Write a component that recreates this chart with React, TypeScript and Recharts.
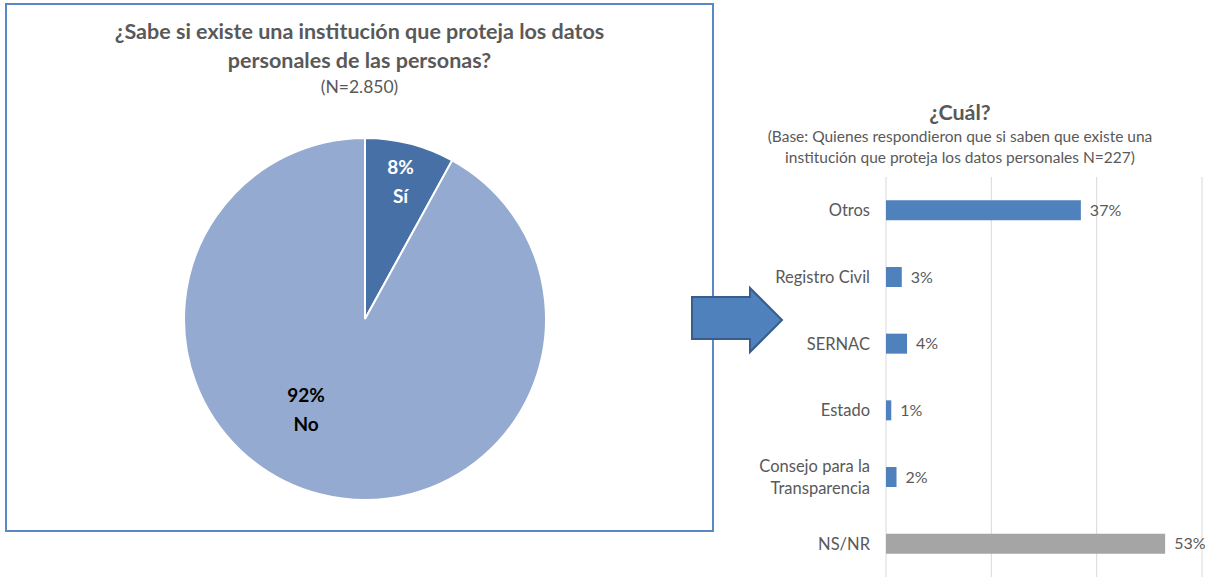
import React from "react";
import {
  Bar,
  BarChart,
  CartesianGrid,
  Cell,
  LabelList,
  Pie,
  PieChart,
  XAxis,
  YAxis,
} from "recharts";

// pie: ¿Sabe si existe una institución...?
const pieNames = ["Sí", "No"];
const pieValues = [8, 92];
const pieColors = ["#4771a6", "#95aad1"];

// bars: ¿Cuál?
const barCategories = [
  "Otros",
  "Registro Civil",
  "SERNAC",
  "Estado",
  "Consejo para la Transparencia",
  "NS/NR",
];
const barValues = [37, 3, 4, 1, 2, 53];
const barColors = ["#4f81bd", "#4f81bd", "#4f81bd", "#4f81bd", "#4f81bd", "#a5a5a5"];
const xTicks = [0, 20, 40, 60];

const pieData = pieNames.map((name, i) => ({ name, value: pieValues[i] }));
const barData = barCategories.map((name, i) => ({ name, value: barValues[i] }));

const FONT = "Lato, 'Open Sans', sans-serif";
const INK = "#595959";
const RAD = Math.PI / 180;

// label placement tweaks (radius, angle shift) to mimic Excel "best fit"
const labelTweak: Record<string, { r: number; shift: number; fill: string }> = {
  "Sí": { r: 143, shift: 0, fill: "#ffffff" },
  No: { r: 107, shift: -19, fill: "#000000" },
};

function PieLabel(props: any) {
  const { cx, cy, midAngle, name, value } = props;
  const t = labelTweak[name];
  const a = (midAngle + t.shift) * RAD;
  const x = cx + t.r * Math.cos(a);
  const y = cy - t.r * Math.sin(a);
  return (
    <text x={x} y={y} textAnchor="middle" fill={t.fill} fontFamily={FONT} fontWeight={700} fontSize={19}>
      <tspan x={x} dy={-6}>{value}%</tspan>
      <tspan x={x} dy={29}>{name}</tspan>
    </text>
  );
}

function CategoryTick({ x, y, payload }: any) {
  const label: string = payload.value;
  const lines = label === "Consejo para la Transparencia" ? ["Consejo para la", "Transparencia"] : [label];
  const start = -((lines.length - 1) * 22) / 2;
  const tx = x - 8;
  return (
    <text x={tx} y={y} textAnchor="end" fill={INK} fontFamily={FONT} fontSize={16.5} dominantBaseline="central">
      {lines.map((l, i) => (
        <tspan key={l} x={tx} dy={i === 0 ? start : 22}>
          {l}
        </tspan>
      ))}
    </text>
  );
}

export default function App() {
  return (
    <div
      style={{
        position: "absolute",
        left: 0,
        top: 0,
        width: 1215,
        height: 577,
        background: "#ffffff",
        fontFamily: FONT,
        overflow: "hidden",
      }}
    >
      {/* left framed pie */}
      <div
        style={{
          position: "absolute",
          left: 5,
          top: 3,
          width: 705,
          height: 525,
          border: "2px solid #5a88c6",
        }}
      />
      <div
        style={{
          position: "absolute",
          left: 5,
          top: 17,
          width: 709,
          textAlign: "center",
          color: INK,
          fontSize: 21.5,
          fontWeight: 700,
          lineHeight: "29px",
        }}
      >
        ¿Sabe si existe una institución que proteja los datos
        <br />
        personales de las personas?
        <div style={{ fontWeight: 400, fontSize: 17.5, lineHeight: "24px" }}>(N=2.850)</div>
      </div>
      <div style={{ position: "absolute", left: 0, top: 0 }}>
        <PieChart width={712} height={577} margin={{ top: 0, right: 0, bottom: 0, left: 0 }}>
          <Pie
            data={pieData}
            dataKey="value"
            nameKey="name"
            cx={365}
            cy={319}
            outerRadius={181}
            startAngle={90}
            endAngle={-270}
            stroke="#ffffff"
            strokeWidth={2}
            labelLine={false}
            label={PieLabel}
            isAnimationActive={false}
          >
            {pieData.map((d, i) => (
              <Cell key={d.name} fill={pieColors[i]} />
            ))}
          </Pie>
        </PieChart>
      </div>

      {/* arrow */}
      <svg style={{ position: "absolute", left: 0, top: 0 }} width={1215} height={577}>
        <polygon
          points="692,297 750,297 750,288 782,320 750,352 750,339 692,339"
          fill="#4f81bd"
          stroke="#385d8a"
          strokeWidth={2}
          strokeLinejoin="miter"
        />
      </svg>

      {/* right bar chart */}
      <div
        style={{
          position: "absolute",
          left: 720,
          top: 98,
          width: 480,
          textAlign: "center",
          color: INK,
        }}
      >
        <div style={{ fontSize: 21.5, fontWeight: 700, lineHeight: "28px" }}>¿Cuál?</div>
        <div style={{ fontSize: 15.5, lineHeight: "21px" }}>
          (Base: Quienes respondieron que si saben que existe una
          <br />
          institución que proteja los datos personales N=227)
        </div>
      </div>
      <div style={{ position: "absolute", left: 740, top: 177 }}>
        <BarChart
          width={475}
          height={400}
          data={barData}
          layout="vertical"
          margin={{ top: 0, right: 13, bottom: 0, left: 0 }}
          barCategoryGap="65%"
        >
          <CartesianGrid horizontal={false} stroke="#d9d9d9" />
          <XAxis type="number" domain={[0, 60]} ticks={xTicks} hide />
          <YAxis
            type="category"
            dataKey="name"
            width={146}
            axisLine={false}
            tickLine={false}
            tick={<CategoryTick />}
            interval={0}
          />
          <Bar dataKey="value" isAnimationActive={false}>
            {barData.map((d, i) => (
              <Cell key={d.name} fill={barColors[i]} />
            ))}
            <LabelList
              dataKey="value"
              position="right"
              offset={9}
              formatter={(v: any) => `${v}%`}
              fill={INK}
              fontSize={16}
              fontFamily={FONT}
            />
          </Bar>
        </BarChart>
      </div>
    </div>
  );
}
